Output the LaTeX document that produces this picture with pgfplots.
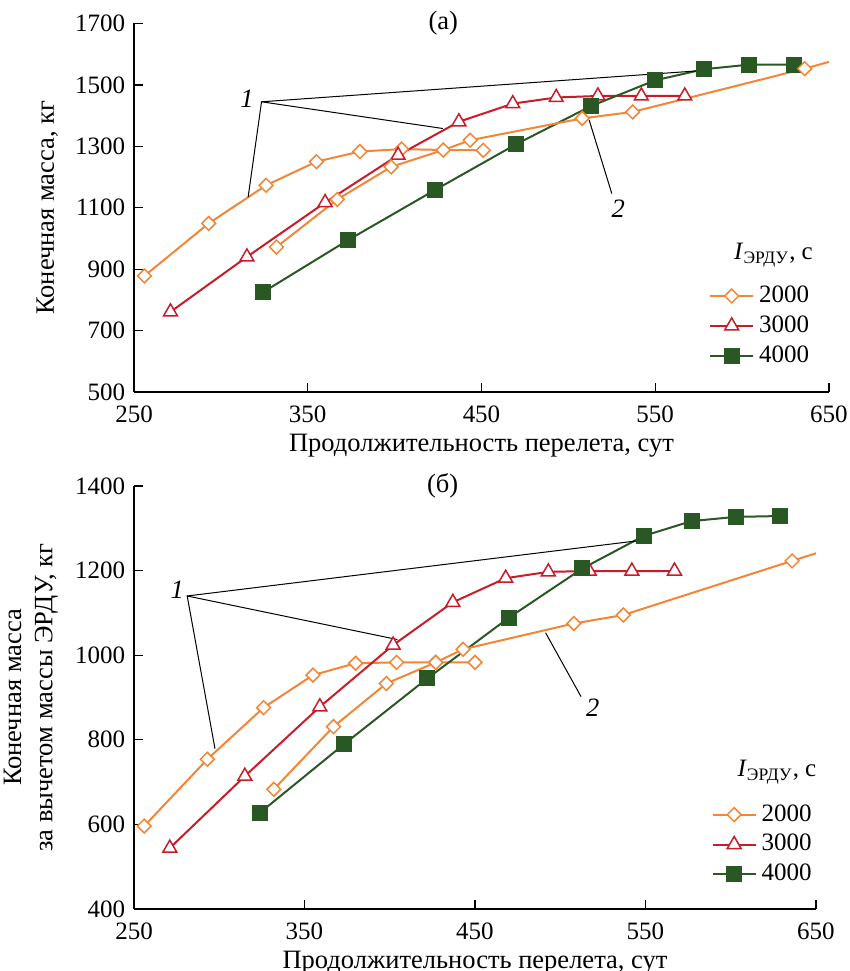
\documentclass[border=0pt]{standalone}
\usepackage{fontspec}
\setmainfont{Liberation Serif}
\usepackage{pgfplots}
\pgfplotsset{compat=1.18}
\usepackage{pgfplotstable}

\definecolor{cor}{RGB}{243,134,54}
\definecolor{cre}{RGB}{200,28,40}
\definecolor{cgr}{RGB}{42,88,36}

% (а) конечная масса
\pgfplotstableread{
x y
256 878
293 1049
326 1173
355 1250
380 1283
404 1291
428 1288
451 1287
}\aA
\pgfplotstableread{
x y
332 972
367 1127
398 1233
428 1288
443.5 1320
508 1391
537 1412
636 1553
}\aB
\pgfplotstableread{
x y
271 761
315 940
360 1117
402 1271
437 1380
468 1439
493 1459
517 1464
542 1464
567 1464
}\aC
\pgfplotstableread{
x y
324 824
373 994
423 1157
470 1307
513 1431
550 1515
578 1551
604 1566
630 1566
}\aD

% (б) за вычетом массы ЭРДУ
\pgfplotstableread{
x y
256 596
293 754
326 876
355 953
380 981
404 983
427 983
450 983
}\bA
\pgfplotstableread{
x y
332 683
367 831
398 933
427 983
443 1014
508 1075
537 1095
636 1223
}\bB
\pgfplotstableread{
x y
271 544
315 714
359 878
402 1024
437 1125
468 1182
493 1197
517 1199
542 1199
567 1199
}\bC
\pgfplotstableread{
x y
324 628
373 789
422 945
470 1089
513 1205
549 1282
577 1317
603 1327
629 1329
}\bD

\tikzset{lead/.style={black, line width=0.4pt}}

\pgfplotsset{
  panel/.style={
    scale only axis,
    anchor=south west,
    axis lines=left,
    axis line style={-, line width=0.5pt},
    tick align=inside,
    major tick length=3.6pt,
    tick style={black, line width=0.5pt},
    xmin=250, xmax=650,
    xtick={250,350,...,650},
    /pgf/number format/assume math mode=true,
    /pgf/number format/1000 sep={},
    ticklabel style={font=\fontsize{10}{12}\selectfont},
    xticklabel style={anchor=base, yshift=-12.2pt},
    label style={font=\fontsize{10.6}{12.5}\selectfont},
    xlabel={Продолжительность перелета, сут},
    xlabel style={at={(axis description cs:0.5,0)}, anchor=base, yshift=-23.8pt},
    legend style={draw=none, fill=none, font=\fontsize{10}{12}\selectfont,
      legend cell align=left, row sep=-0.2pt},
    clip=false,
  },
  s2000/.style={color=cor, line width=0.8pt, mark=square*,
    mark size=1.95pt, mark options={rotate=45, fill=white, line width=0.6pt}},
  s3000/.style={color=cre, line width=0.8pt, mark=triangle*,
    mark size=3.2pt, mark options={fill=white, line width=0.6pt}},
  s4000/.style={color=cgr, line width=0.8pt, mark=square*,
    mark size=2.8pt, mark options={fill=cgr}},
}

\begin{document}
\begin{tikzpicture}
\path[use as bounding box] (0,0) rectangle (340pt,388.4pt);

% ---------- (а) ----------
\begin{axis}[panel,
  at={(53.6pt,231.6pt)}, width=278pt, height=147.4pt,
  ymin=500, ymax=1700, ytick={500,700,...,1700},
  ylabel={Конечная масса, кг},
  legend style={at={(axis cs:646,880)}, anchor=north east},
]
\addplot[s2000] table {\aA};
\addlegendentry{2000}
\addplot[s3000] table {\aC};
\addlegendentry{3000}
\addplot[s4000] table {\aD};
\addlegendentry{4000}
\addplot[s2000, forget plot] table {\aB};
\addplot[color=cor, line width=0.8pt, forget plot] coordinates {(636,1553) (650,1575)};

\draw[lead] (axis cs:315.7,1135) -- (axis cs:323.4,1445) -- (axis cs:427.8,1358);
\draw[lead] (axis cs:323.4,1445) -- (axis cs:575,1546);
\draw[lead] (axis cs:525,1146) -- (axis cs:512,1385);
\node[font=\fontsize{10.6}{12}\selectfont\itshape] at (axis cs:315,1455) {1};
\node[font=\fontsize{10.6}{12}\selectfont\itshape] at (axis cs:528.7,1097) {2};
\node[font=\fontsize{10.6}{12}\selectfont] at (axis cs:428,1700) {(а)};
\node[font=\fontsize{10}{12}\selectfont, anchor=east, inner sep=0pt] at (axis cs:641,945) {\textit{I}\textsubscript{ЭРДУ}, с};
\end{axis}

% ---------- (б) ----------
\begin{axis}[panel,
  at={(53.6pt,24.8pt)}, width=272.8pt, height=169.2pt,
  ymin=400, ymax=1400, ytick={400,600,...,1400},
  ylabel={Конечная масса\\за вычетом массы ЭРДУ, кг},
  ylabel style={align=center},
  legend style={at={(axis cs:655,672)}, anchor=north east},
]
\addplot[s2000] table {\bA};
\addlegendentry{2000}
\addplot[s3000] table {\bC};
\addlegendentry{3000}
\addplot[s4000] table {\bD};
\addlegendentry{4000}
\addplot[s2000, forget plot] table {\bB};
\addplot[color=cor, line width=0.8pt, forget plot] coordinates {(636,1223) (650,1241)};

\draw[lead] (axis cs:297.5,779) -- (axis cs:281.2,1140) -- (axis cs:404.5,1037);
\draw[lead] (axis cs:281.2,1140) -- (axis cs:546.4,1271);
\draw[lead] (axis cs:512.2,902) -- (axis cs:491.4,1053);
\node[font=\fontsize{10.6}{12}\selectfont\itshape] at (axis cs:275.4,1154) {1};
\node[font=\fontsize{10.6}{12}\selectfont\itshape] at (axis cs:519,876) {2};
\node[font=\fontsize{10.6}{12}\selectfont] at (axis cs:431,1400) {(б)};
\node[font=\fontsize{10}{12}\selectfont, anchor=east, inner sep=0pt] at (axis cs:650.5,724) {\textit{I}\textsubscript{ЭРДУ}, с};
\end{axis}
\end{tikzpicture}
\end{document}
